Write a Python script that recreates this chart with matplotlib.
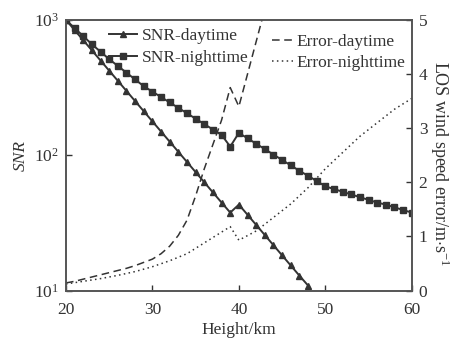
import numpy as np
import matplotlib
matplotlib.use('Agg')
import matplotlib.pyplot as plt

plt.rcParams['font.family'] = ['Liberation Serif', 'DejaVu Serif']
plt.rcParams['mathtext.fontset'] = 'custom'
plt.rcParams['mathtext.rm'] = 'Liberation Serif'
plt.rcParams['mathtext.it'] = 'Liberation Serif:italic'

# SNR (log10 values), one point per km
night_h = list(range(20, 61))
night_log = [3.00, 2.94, 2.88, 2.82, 2.765, 2.71, 2.66, 2.61, 2.56, 2.51,
             2.47, 2.43, 2.39, 2.35, 2.31, 2.27, 2.23, 2.19, 2.15, 2.064,
             2.165, 2.125, 2.085, 2.045, 2.005, 1.965, 1.925, 1.885, 1.848, 1.81,
             1.77, 1.75, 1.73, 1.71, 1.69, 1.67, 1.65, 1.635, 1.615, 1.595,
             1.576]
day_h = list(range(20, 49))
day_log = [3.00, 2.925, 2.85, 2.775, 2.70, 2.625, 2.55, 2.475, 2.40, 2.325,
           2.25, 2.175, 2.10, 2.025, 1.95, 1.875, 1.80, 1.725, 1.65, 1.576,
           1.635, 1.56, 1.485, 1.41, 1.335, 1.26, 1.185, 1.11, 1.037]

# LOS wind speed error (m/s)
err_day_h = [20, 21, 22, 23, 24, 25, 26, 27, 28, 29, 30, 31, 32, 33, 34, 35,
             36, 37, 38, 39, 40, 41, 42, 43, 44]
err_day = [0.14, 0.17, 0.21, 0.25, 0.29, 0.33, 0.37, 0.41, 0.46, 0.52, 0.58,
           0.68, 0.82, 1.02, 1.30, 1.75, 2.25, 2.70, 3.15, 3.75, 3.40, 4.00,
           4.60, 5.20, 5.80]
err_night_h = [20, 22, 24, 26, 28, 30, 32, 34, 36, 38, 39, 40, 42, 44, 46, 48,
               50, 52, 54, 56, 58, 60]
err_night = [0.12, 0.17, 0.22, 0.28, 0.35, 0.44, 0.55, 0.68, 0.88, 1.08, 1.18,
             0.93, 1.10, 1.35, 1.60, 1.90, 2.25, 2.55, 2.85, 3.10, 3.35, 3.55]

c = '#333333'
fig = plt.figure(figsize=(4.55, 3.44), dpi=100)
ax1 = fig.add_axes([0.145, 0.1555, 0.76, 0.7865])
ax2 = ax1.twinx()

l1, = ax1.plot(day_h, 10 ** np.array(day_log), color=c, lw=1.4, marker='^', ms=4.8,
               label='SNR-daytime')
l2, = ax1.plot(night_h, 10 ** np.array(night_log), color=c, lw=1.4, marker='s', ms=4.0,
               label='SNR-nighttime')
l3, = ax2.plot(err_day_h, err_day, color=c, lw=1.1, ls=(0, (5, 3)), label='Error-daytime')
l4, = ax2.plot(err_night_h, err_night, color=c, lw=1.1, ls=(0, (1, 2.2)), label='Error-nighttime')

ax1.set_yscale('log')
ax1.set_xlim(20, 60)
ax1.set_ylim(10, 1000)
ax2.set_ylim(0, 5)
ax1.set_xticks([20, 30, 40, 50, 60])
ax1.set_yticks([10, 100, 1000])
ax1.minorticks_off()
ax2.set_yticks([0, 1, 2, 3, 4, 5])

for ax in (ax1, ax2):
    ax.tick_params(direction='in', length=4, width=1, colors=c, labelsize=12.5, pad=5)
    for s in ax.spines.values():
        s.set_color('#555555')
        s.set_linewidth(1.2)
ax1.tick_params(axis='x', pad=8)

ax1.set_xlabel('Height/km', fontsize=12.5, color=c, labelpad=3)
ax1.set_ylabel('SNR', fontsize=12.5, color=c, style='italic', labelpad=4)
ax2.set_ylabel('LOS wind speed error/m$\\cdot$s$^{-1}$', fontsize=13, color=c,
               rotation=270, labelpad=17, y=0.47)

leg1 = ax1.legend(handles=[l1, l2], loc='upper left', bbox_to_anchor=(0.125, 0.97),
                  frameon=False, fontsize=12.5, handlelength=1.6, handletextpad=0.3,
                  labelspacing=0.3, borderpad=0, borderaxespad=0)
for t in leg1.get_texts():
    t.set_color(c)
leg2 = ax2.legend(handles=[l3, l4], loc='upper left', bbox_to_anchor=(0.595, 0.95),
                  frameon=False, fontsize=12.5, handlelength=1.2, handletextpad=0.2,
                  labelspacing=0.3, borderpad=0, borderaxespad=0)
for t in leg2.get_texts():
    t.set_color(c)

fig.savefig('out.png', dpi=100)
